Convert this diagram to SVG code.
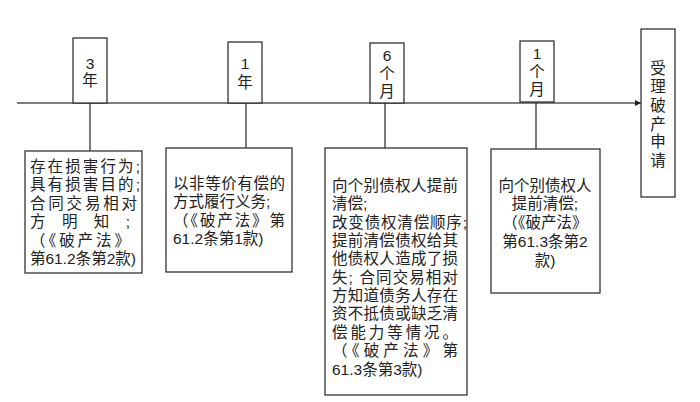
<svg xmlns="http://www.w3.org/2000/svg" width="700" height="402" viewBox="0 0 700 402">
<defs>
<marker id="arr" viewBox="0 0 10 10" refX="10" refY="5" markerWidth="6" markerHeight="6" markerUnits="userSpaceOnUse" orient="auto">
<path d="M0,0 L10,5 L0,10 z" fill="#222"/>
</marker>
<style>
.box{fill:#fff;stroke:#222;stroke-width:1.2}
.t{font-family:"Liberation Sans","Noto Sans CJK SC",sans-serif;font-size:15.5px;fill:#222}
.c{text-anchor:middle}
.ln{stroke:#222;stroke-width:1.2;fill:none}
</style>
</defs>
<rect width="700" height="402" fill="#fff"/>
<g id="connectors">
<line class="ln" x1="17" y1="103" x2="641" y2="103" marker-end="url(#arr)" style="stroke:#555;stroke-width:1.5"/>
<line class="ln" x1="90" y1="103" x2="90" y2="151"/>
<line class="ln" x1="246" y1="103" x2="246" y2="148"/>
<line class="ln" x1="385" y1="103" x2="385" y2="148"/>
<line class="ln" x1="536" y1="103" x2="536" y2="149"/>
</g>
<g id="n3y">
<rect class="box" x="73" y="38" width="34" height="65"/>
<text class="t c" x="90" y="69">3</text>
<text class="t c" x="90" y="86">年</text>
</g>
<g id="n1y">
<rect class="box" x="228" y="42" width="34" height="61"/>
<text class="t c" x="245" y="69">1</text>
<text class="t c" x="245" y="88">年</text>
</g>
<g id="n6m">
<rect class="box" x="370" y="43" width="34" height="60"/>
<text class="t c" x="387" y="61">6</text>
<text class="t c" x="387" y="79">个</text>
<text class="t c" x="387" y="97">月</text>
</g>
<g id="n1m">
<rect class="box" x="520" y="41" width="34" height="61"/>
<text class="t c" x="537" y="59">1</text>
<text class="t c" x="537" y="77">个</text>
<text class="t c" x="537" y="95">月</text>
</g>
<g id="nend">
<rect class="box" x="641" y="29" width="34" height="168"/>
<text class="t c" x="658" y="74">受</text>
<text class="t c" x="658" y="92">理</text>
<text class="t c" x="658" y="111">破</text>
<text class="t c" x="658" y="130">产</text>
<text class="t c" x="658" y="147">申</text>
<text class="t c" x="658" y="166">请</text>
</g>
<g id="d3y">
<rect class="box" x="25" y="151" width="117" height="122"/>
<text class="t" x="30" y="172" textLength="110" lengthAdjust="spacing">存在损害行为;</text>
<text class="t" x="30" y="190" textLength="110" lengthAdjust="spacing">具有损害目的;</text>
<text class="t" x="30" y="209" textLength="107" lengthAdjust="spacing">合同交易相对</text>
<text class="t" x="30" y="227" textLength="100" lengthAdjust="spacing">方明知;</text>
<text class="t" x="30" y="246" textLength="100" lengthAdjust="spacing">（《破产法》</text>
<text class="t" x="30" y="264">第61.2条第2款)</text>
</g>
<g id="d1y">
<rect class="box" x="166" y="148" width="126" height="124"/>
<text class="t" x="173" y="189" textLength="112" lengthAdjust="spacing">以非等价有偿的</text>
<text class="t" x="173" y="207">方式履行义务;</text>
<text class="t" x="173" y="226" textLength="112" lengthAdjust="spacing">（《破产法》第</text>
<text class="t" x="173" y="244">61.2条第1款)</text>
</g>
<g id="d6m">
<rect class="box" x="325" y="148" width="142" height="247"/>
<text class="t" x="332" y="191" textLength="126" lengthAdjust="spacing">向个别债权人提前</text>
<text class="t" x="332" y="209">清偿;</text>
<text class="t" x="332" y="228" textLength="135" lengthAdjust="spacing">改变债权清偿顺序;</text>
<text class="t" x="332" y="246" textLength="126" lengthAdjust="spacing">提前清偿债权给其</text>
<text class="t" x="332" y="264" textLength="126" lengthAdjust="spacing">他债权人造成了损</text>
<text class="t" x="332" y="283" textLength="126" lengthAdjust="spacing">失; 合同交易相对</text>
<text class="t" x="332" y="301" textLength="126" lengthAdjust="spacing">方知道债务人存在</text>
<text class="t" x="332" y="319" textLength="126" lengthAdjust="spacing">资不抵债或缺乏清</text>
<text class="t" x="332" y="338" textLength="126" lengthAdjust="spacing">偿能力等情况。</text>
<text class="t" x="332" y="356" textLength="126" lengthAdjust="spacing">（《破产法》第</text>
<text class="t" x="332" y="375">61.3条第3款)</text>
</g>
<g id="d1m">
<rect class="box" x="491" y="149" width="109" height="144"/>
<text class="t c" x="545" y="191">向个别债权人</text>
<text class="t c" x="545" y="209">提前清偿;</text>
<text class="t c" x="545" y="228">（《破产法》</text>
<text class="t c" x="545" y="247">第61.3条第2</text>
<text class="t c" x="545" y="266">款)</text>
</g>
</svg>
